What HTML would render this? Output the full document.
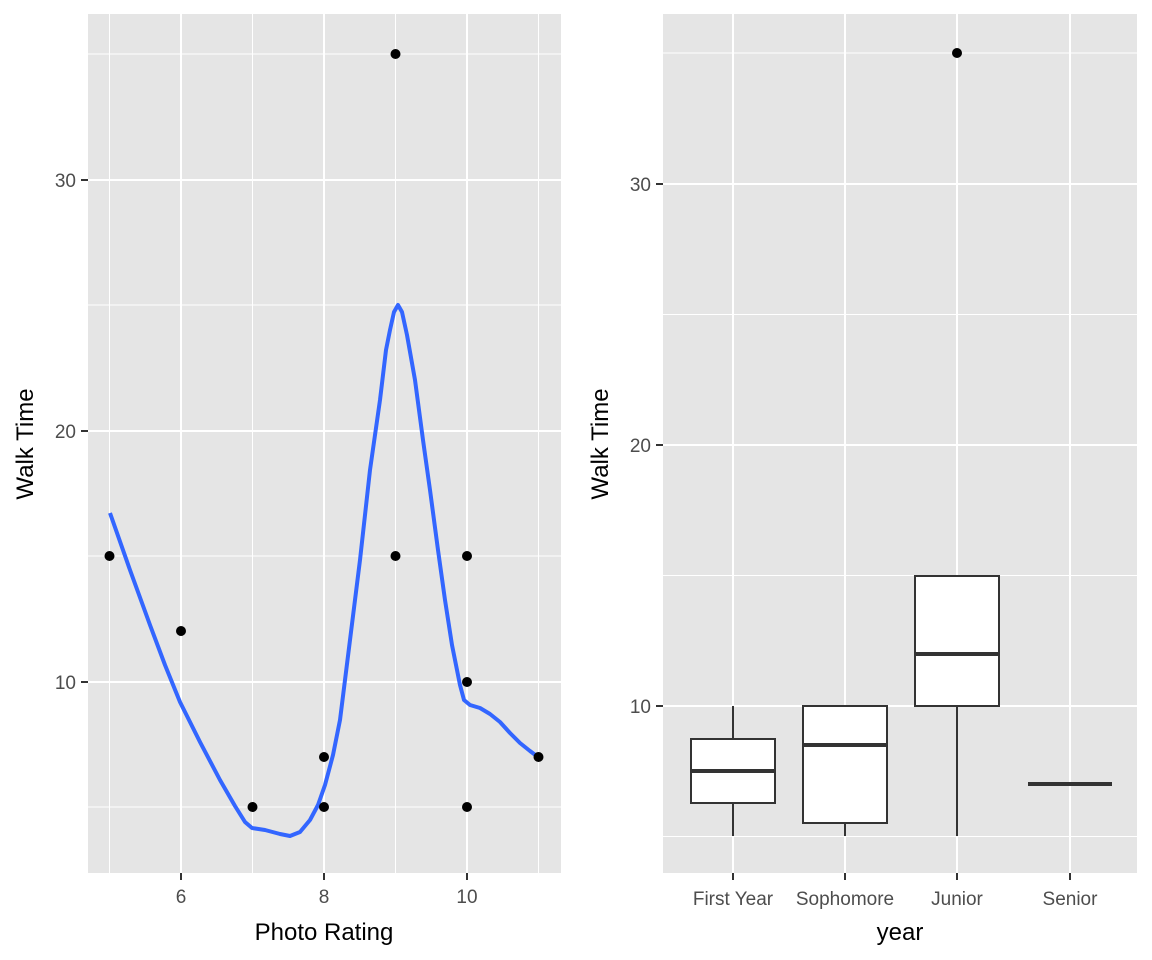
<!DOCTYPE html>
<html><head><style>body{margin:0;background:#fff}svg{display:block}</style></head><body>
<svg width="1152" height="960" xmlns="http://www.w3.org/2000/svg" font-family="Liberation Sans, sans-serif">
<rect width="1152" height="960" fill="#fff"/>
<!-- LEFT PANEL -->
<rect x="88" y="14" width="473" height="859" fill="#e5e5e5"/>
<g stroke="#fff" stroke-width="1">
<line x1="88" x2="561" y1="807" y2="807"/><line x1="88" x2="561" y1="556" y2="556"/><line x1="88" x2="561" y1="305" y2="305"/><line x1="88" x2="561" y1="54" y2="54"/>
<line y1="14" y2="873" x1="109.5" x2="109.5"/><line y1="14" y2="873" x1="252.5" x2="252.5"/><line y1="14" y2="873" x1="395.5" x2="395.5"/><line y1="14" y2="873" x1="538.5" x2="538.5"/>
</g>
<g stroke="#fff" stroke-width="2">
<line x1="88" x2="561" y1="180" y2="180"/><line x1="88" x2="561" y1="431" y2="431"/><line x1="88" x2="561" y1="682" y2="682"/>
<line y1="14" y2="873" x1="181" x2="181"/><line y1="14" y2="873" x1="324" x2="324"/><line y1="14" y2="873" x1="467" x2="467"/>
</g>
<polyline fill="none" stroke="#3366ff" stroke-width="4" stroke-linejoin="round" points="110,513 130,570 150,625 165,665 180,702 200,742 220,780 235,806 245,822 252,828 265,830 280,834 290,836 300,832 310,820 318,805 325,785 333,755 340,720 350,640 360,560 370,470 380,400 386,350 390,330 394,312 398,305 402,312 407,335 415,380 423,440 430,490 438,550 445,600 452,645 460,685 464,700 470,705 480,708 490,714 500,722 510,733 520,743 530,751 538,757"/>
<g fill="#000">
<circle cx="109.5" cy="556" r="5"/><circle cx="181" cy="631" r="5"/><circle cx="252.5" cy="807" r="5"/><circle cx="324" cy="757" r="5"/><circle cx="324" cy="807" r="5"/><circle cx="395.5" cy="54" r="5"/><circle cx="395.5" cy="556" r="5"/><circle cx="467" cy="556" r="5"/><circle cx="467" cy="682" r="5"/><circle cx="467" cy="807" r="5"/><circle cx="538.5" cy="757" r="5"/>
</g>
<g stroke="#333" stroke-width="2">
<line x1="81" x2="88" y1="180" y2="180"/><line x1="81" x2="88" y1="431" y2="431"/><line x1="81" x2="88" y1="682" y2="682"/>
<line y1="873" y2="880" x1="181" x2="181"/><line y1="873" y2="880" x1="324" x2="324"/><line y1="873" y2="880" x1="467" x2="467"/>
</g>
<g fill="#4d4d4d" font-size="19" text-anchor="end">
<text x="76" y="187">30</text><text x="76" y="438">20</text><text x="76" y="689">10</text>
</g>
<g fill="#4d4d4d" font-size="19" text-anchor="middle">
<text x="181" y="903">6</text><text x="324" y="903">8</text><text x="467" y="903">10</text>
</g>
<text x="324" y="940" font-size="24" text-anchor="middle">Photo Rating</text>
<text transform="translate(33,444) rotate(-90)" font-size="24" text-anchor="middle">Walk Time</text>
<!-- RIGHT PANEL -->
<rect x="663" y="14" width="474" height="859" fill="#e5e5e5"/>
<g stroke="#fff" stroke-width="1">
<line x1="663" x2="1137" y1="836.5" y2="836.5"/><line x1="663" x2="1137" y1="575.5" y2="575.5"/><line x1="663" x2="1137" y1="314.5" y2="314.5"/><line x1="663" x2="1137" y1="53" y2="53"/>
</g>
<g stroke="#fff" stroke-width="2">
<line x1="663" x2="1137" y1="184" y2="184"/><line x1="663" x2="1137" y1="445" y2="445"/><line x1="663" x2="1137" y1="706" y2="706"/>
<line y1="14" y2="873" x1="733" x2="733"/><line y1="14" y2="873" x1="845" x2="845"/><line y1="14" y2="873" x1="957" x2="957"/><line y1="14" y2="873" x1="1070" x2="1070"/>
</g>
<g stroke="#333" stroke-width="2" fill="#fff">
<line x1="733" x2="733" y1="706" y2="739"/><line x1="733" x2="733" y1="803" y2="836"/>
<rect x="691" y="739" width="84" height="64"/>
<line x1="845" x2="845" y1="823" y2="836"/>
<rect x="803" y="706" width="84" height="117"/>
<line x1="957" x2="957" y1="706" y2="836"/>
<rect x="915" y="576" width="84" height="130"/>
</g>
<g stroke="#333" stroke-width="4">
<line x1="691" x2="775" y1="771" y2="771"/><line x1="803" x2="887" y1="745" y2="745"/><line x1="915" x2="999" y1="654" y2="654"/><line x1="1028" x2="1112" y1="784" y2="784"/>
</g>
<circle cx="957" cy="53" r="5" fill="#000"/>
<g stroke="#333" stroke-width="2">
<line x1="656" x2="663" y1="184" y2="184"/><line x1="656" x2="663" y1="445" y2="445"/><line x1="656" x2="663" y1="706" y2="706"/>
<line y1="873" y2="880" x1="733" x2="733"/><line y1="873" y2="880" x1="845" x2="845"/><line y1="873" y2="880" x1="957" x2="957"/><line y1="873" y2="880" x1="1070" x2="1070"/>
</g>
<g fill="#4d4d4d" font-size="19" text-anchor="end">
<text x="651" y="191">30</text><text x="651" y="452">20</text><text x="651" y="713">10</text>
</g>
<g fill="#4d4d4d" font-size="19" text-anchor="middle">
<text x="733" y="905">First Year</text><text x="845" y="905">Sophomore</text><text x="957" y="905">Junior</text><text x="1070" y="905">Senior</text>
</g>
<text x="900" y="940" font-size="24" text-anchor="middle">year</text>
<text transform="translate(608,444) rotate(-90)" font-size="24" text-anchor="middle">Walk Time</text>
</svg>
</body></html>
